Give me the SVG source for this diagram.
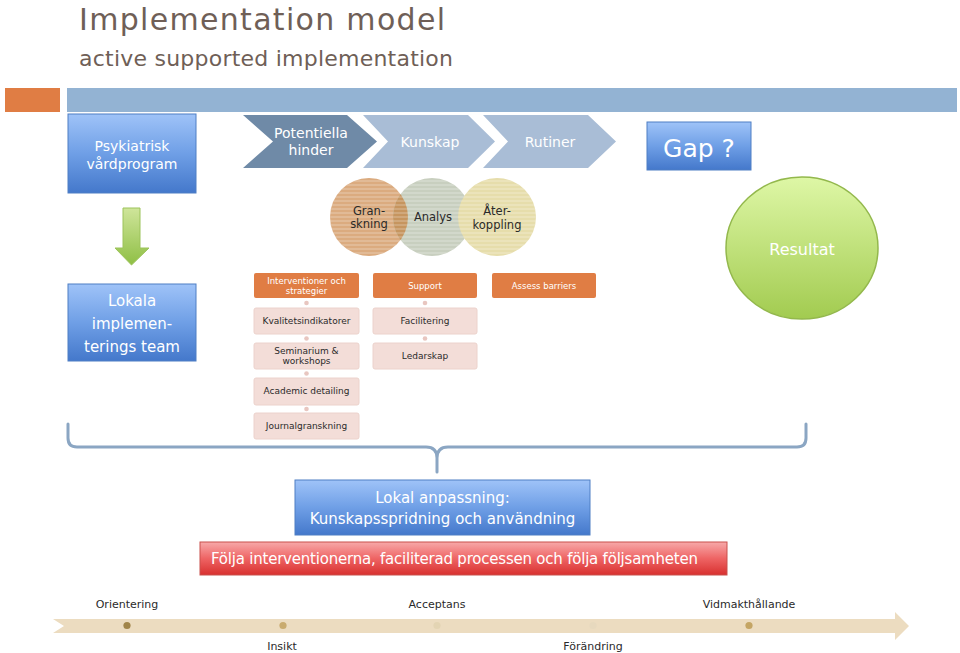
<svg xmlns="http://www.w3.org/2000/svg" width="960" height="653" viewBox="0 0 960 653">
<style>
  text { font-family: "DejaVu Sans", "Liberation Sans", sans-serif; }
  .title { fill: #6f5f57; }
  .white { fill: #ffffff; }
  .dark { fill: #2a2a2a; }
  .blue { fill: url(#gBlue); stroke: #4f7fc4; stroke-width: 1; }
  .orange { fill: #e07d44; }
  .pink { fill: #f3ddd8; stroke: #ecd2cc; stroke-width: 1; }
  .dot { fill: #e8c6c0; }
  .chev1 { fill: #6f8aa7; }
  .chev2 { fill: #a9bdd6; }
  .brace { fill: none; stroke: #8ba6c3; stroke-width: 3; stroke-linecap: round; stroke-linejoin: round; }
</style>
<defs>
  <linearGradient id="gBlue" x1="0" y1="0" x2="0" y2="1">
    <stop offset="0" stop-color="#9fc3f8"/>
    <stop offset="0.5" stop-color="#6f9fe6"/>
    <stop offset="1" stop-color="#4478cb"/>
  </linearGradient>
  <linearGradient id="gGreen" x1="0" y1="0" x2="0" y2="1">
    <stop offset="0" stop-color="#def7a6"/>
    <stop offset="1" stop-color="#a2cb50"/>
  </linearGradient>
  <linearGradient id="gArrow" x1="0" y1="0" x2="0" y2="1">
    <stop offset="0" stop-color="#cfe59a"/>
    <stop offset="1" stop-color="#8fbf45"/>
  </linearGradient>
  <linearGradient id="gRed" x1="0" y1="0" x2="0" y2="1">
    <stop offset="0" stop-color="#f7a9a9"/>
    <stop offset="0.5" stop-color="#ee6464"/>
    <stop offset="1" stop-color="#d8302f"/>
  </linearGradient>
  <pattern id="stripes" width="8" height="4" patternUnits="userSpaceOnUse">
    <rect width="8" height="2" fill="#ffffff" fill-opacity="0.18"/>
  </pattern>
  <clipPath id="clipGran">
    <circle cx="369" cy="217" r="39"/>
  </clipPath>
</defs>

<!-- Title -->
<g id="title">
  <text class="title" x="79" y="30" font-size="30" textLength="366">Implementation model</text>
  <text class="title" x="79" y="66" font-size="22" textLength="374">active supported implementation</text>
</g>

<!-- Header bar -->
<g id="header-bar">
  <rect x="5" y="88" width="55" height="24" fill="#e07d44"/>
  <rect x="67" y="88" width="890" height="24" fill="#93b3d3"/>
</g>

<g id="psykiatrisk">
  <rect class="blue" x="68" y="114" width="128" height="79"/>
  <text class="white" x="132" y="151" font-size="14" text-anchor="middle">Psykiatrisk</text>
  <text class="white" x="132" y="169" font-size="14" text-anchor="middle">vårdprogram</text>
</g>

<g id="potentiella">
  <polygon class="chev1" points="243,115 347,115 377,141.5 347,168 243,168 273,141.5"/>
  <text class="white" x="311" y="138" font-size="14" text-anchor="middle">Potentiella</text>
  <text class="white" x="311" y="155" font-size="14" text-anchor="middle">hinder</text>
</g>

<g id="kunskap">
  <polygon class="chev2" points="363,115 468,115 495,141.5 468,168 363,168 388,141.5"/>
  <text class="white" x="430" y="147" font-size="14" text-anchor="middle">Kunskap</text>
</g>

<g id="rutiner">
  <polygon class="chev2" points="483,115 588,115 616,141.5 588,168 483,168 508,141.5"/>
  <text class="white" x="550" y="147" font-size="14" text-anchor="middle">Rutiner</text>
</g>

<g id="gap">
  <rect class="blue" x="647" y="122" width="104" height="48"/>
  <text class="white" x="699" y="157" font-size="25" text-anchor="middle">Gap ?</text>
</g>

<g id="resultat">
  <ellipse cx="802" cy="248" rx="76" ry="71" fill="url(#gGreen)" stroke="#93b84c" stroke-width="1.5"/>
  <text class="white" x="802" y="255" font-size="16" text-anchor="middle">Resultat</text>
</g>

<!-- Circles -->
<g id="granskning">
  <circle cx="369" cy="217" r="39" fill="#dbab7f"/>
  <circle cx="369" cy="217" r="39" fill="url(#stripes)"/>
</g>
<g id="analys">
  <circle cx="432" cy="217" r="39" fill="#c8cfbf"/>
  <circle cx="432" cy="217" r="39" fill="#c6955f" clip-path="url(#clipGran)"/>
  <circle cx="432" cy="217" r="39" fill="url(#stripes)"/>
</g>
<g id="aterkoppling">
  <circle cx="497" cy="217" r="39" fill="#e6ddab"/>
  <circle cx="497" cy="217" r="39" fill="url(#stripes)"/>
</g>
<g id="circle-labels">
  <text class="dark" x="369" y="215" font-size="11.5" text-anchor="middle">Gran-</text>
  <text class="dark" x="369" y="228" font-size="11.5" text-anchor="middle">skning</text>
  <text class="dark" x="433" y="221" font-size="11.5" text-anchor="middle">Analys</text>
  <text class="dark" x="497" y="215" font-size="11.5" text-anchor="middle">Åter-</text>
  <text class="dark" x="497" y="229" font-size="11.5" text-anchor="middle">koppling</text>
</g>

<!-- Green arrow -->
<g id="down-arrow">
  <polygon points="123,208 140,208 140,248 149,248 131.5,265 115,248 123,248" fill="url(#gArrow)" stroke="#9cc35a" stroke-width="1"/>
</g>

<g id="lokala">
  <rect class="blue" x="68" y="284" width="128" height="77"/>
  <text class="white" x="132" y="306" font-size="15" text-anchor="middle">Lokala</text>
  <text class="white" x="132" y="329" font-size="15" text-anchor="middle">implemen-</text>
  <text class="white" x="132" y="352" font-size="15" text-anchor="middle">terings team</text>
</g>

<!-- Column 1 -->
<g id="interventioner">
  <rect class="orange" x="254" y="273" width="105" height="25" rx="2"/>
  <text class="white" x="306.5" y="284" font-size="8.5" text-anchor="middle">Interventioner och</text>
  <text class="white" x="306.5" y="294" font-size="8.5" text-anchor="middle">strategier</text>
</g>
<g id="kvalitet">
  <rect class="pink" x="254" y="308" width="105" height="26" rx="2"/>
  <text class="dark" x="306.5" y="324" font-size="9" text-anchor="middle">Kvalitetsindikatorer</text>
</g>
<g id="seminarium">
  <rect class="pink" x="254" y="343" width="105" height="26" rx="2"/>
  <text class="dark" x="306.5" y="354" font-size="9" text-anchor="middle">Seminarium &amp;</text>
  <text class="dark" x="306.5" y="364" font-size="9" text-anchor="middle">workshops</text>
</g>
<g id="academic">
  <rect class="pink" x="254" y="378" width="105" height="27" rx="2"/>
  <text class="dark" x="306.5" y="394" font-size="9" text-anchor="middle">Academic detailing</text>
</g>
<g id="journal">
  <rect class="pink" x="254" y="413" width="105" height="26" rx="2"/>
  <text class="dark" x="306.5" y="429" font-size="9" text-anchor="middle">Journalgranskning</text>
</g>

<!-- Column 2 -->
<g id="support">
  <rect class="orange" x="373" y="273" width="104" height="25" rx="2"/>
  <text class="white" x="425" y="289" font-size="8.5" text-anchor="middle">Support</text>
</g>
<g id="facilitering">
  <rect class="pink" x="373" y="308" width="104" height="26" rx="2"/>
  <text class="dark" x="425" y="324" font-size="9" text-anchor="middle">Facilitering</text>
</g>
<g id="ledarskap">
  <rect class="pink" x="373" y="343" width="104" height="26" rx="2"/>
  <text class="dark" x="425" y="359" font-size="9" text-anchor="middle">Ledarskap</text>
</g>

<!-- Column 3 -->
<g id="assess">
  <rect class="orange" x="492" y="273" width="104" height="25" rx="2"/>
  <text class="white" x="544" y="289" font-size="8.5" text-anchor="middle">Assess barriers</text>
</g>

<!-- Connectors -->
<g id="connectors">
  <circle class="dot" cx="306.5" cy="303" r="2.3"/>
  <circle class="dot" cx="306.5" cy="338.5" r="2.3"/>
  <circle class="dot" cx="306.5" cy="373.5" r="2.3"/>
  <circle class="dot" cx="306.5" cy="409" r="2.3"/>
  <circle class="dot" cx="425" cy="303" r="2.3"/>
  <circle class="dot" cx="425" cy="338.5" r="2.3"/>
  <path class="brace" d="M68,424 L68,438 Q68,447 77,447 L426,447 Q437,447 437,458 L437,472 M437,472 L437,458 Q437,447 448,447 L797,447 Q806,447 806,438 L806,424"/>
</g>

<g id="lokal-anpassning">
  <rect class="blue" x="295" y="480" width="295" height="55"/>
  <text class="white" x="442.5" y="503" font-size="15" text-anchor="middle">Lokal anpassning:</text>
  <text class="white" x="442.5" y="524" font-size="15" text-anchor="middle">Kunskapsspridning och användning</text>
</g>

<g id="folja">
  <rect x="200" y="542" width="527" height="33" fill="url(#gRed)" stroke="#c9504c" stroke-width="1"/>
  <text class="white" x="211" y="564" font-size="15" textLength="487">Följa interventionerna, faciliterad processen och följa följsamheten</text>
</g>

<!-- Timeline -->
<g id="timeline">
  <polygon points="53,619 895,619 895,612 909,626 895,640 895,633 53,633 64,626" fill="#ecdcc0"/>
  <circle cx="127" cy="625.5" r="3.6" fill="#a1854a"/>
  <circle cx="283" cy="625.5" r="3.6" fill="#c9ab6e"/>
  <circle cx="437" cy="625.5" r="3.6" fill="#e3d4b3"/>
  <circle cx="593" cy="625.5" r="3.6" fill="#e7d9be"/>
  <circle cx="749" cy="625.5" r="3.6" fill="#c4a564"/>
  <text class="dark" x="127" y="608" font-size="11" text-anchor="middle">Orientering</text>
  <text class="dark" x="437" y="608" font-size="11" text-anchor="middle">Acceptans</text>
  <text class="dark" x="749" y="608" font-size="11" text-anchor="middle">Vidmakthållande</text>
  <text class="dark" x="282" y="650" font-size="11" text-anchor="middle">Insikt</text>
  <text class="dark" x="593" y="650" font-size="11" text-anchor="middle">Förändring</text>
</g>
</svg>
